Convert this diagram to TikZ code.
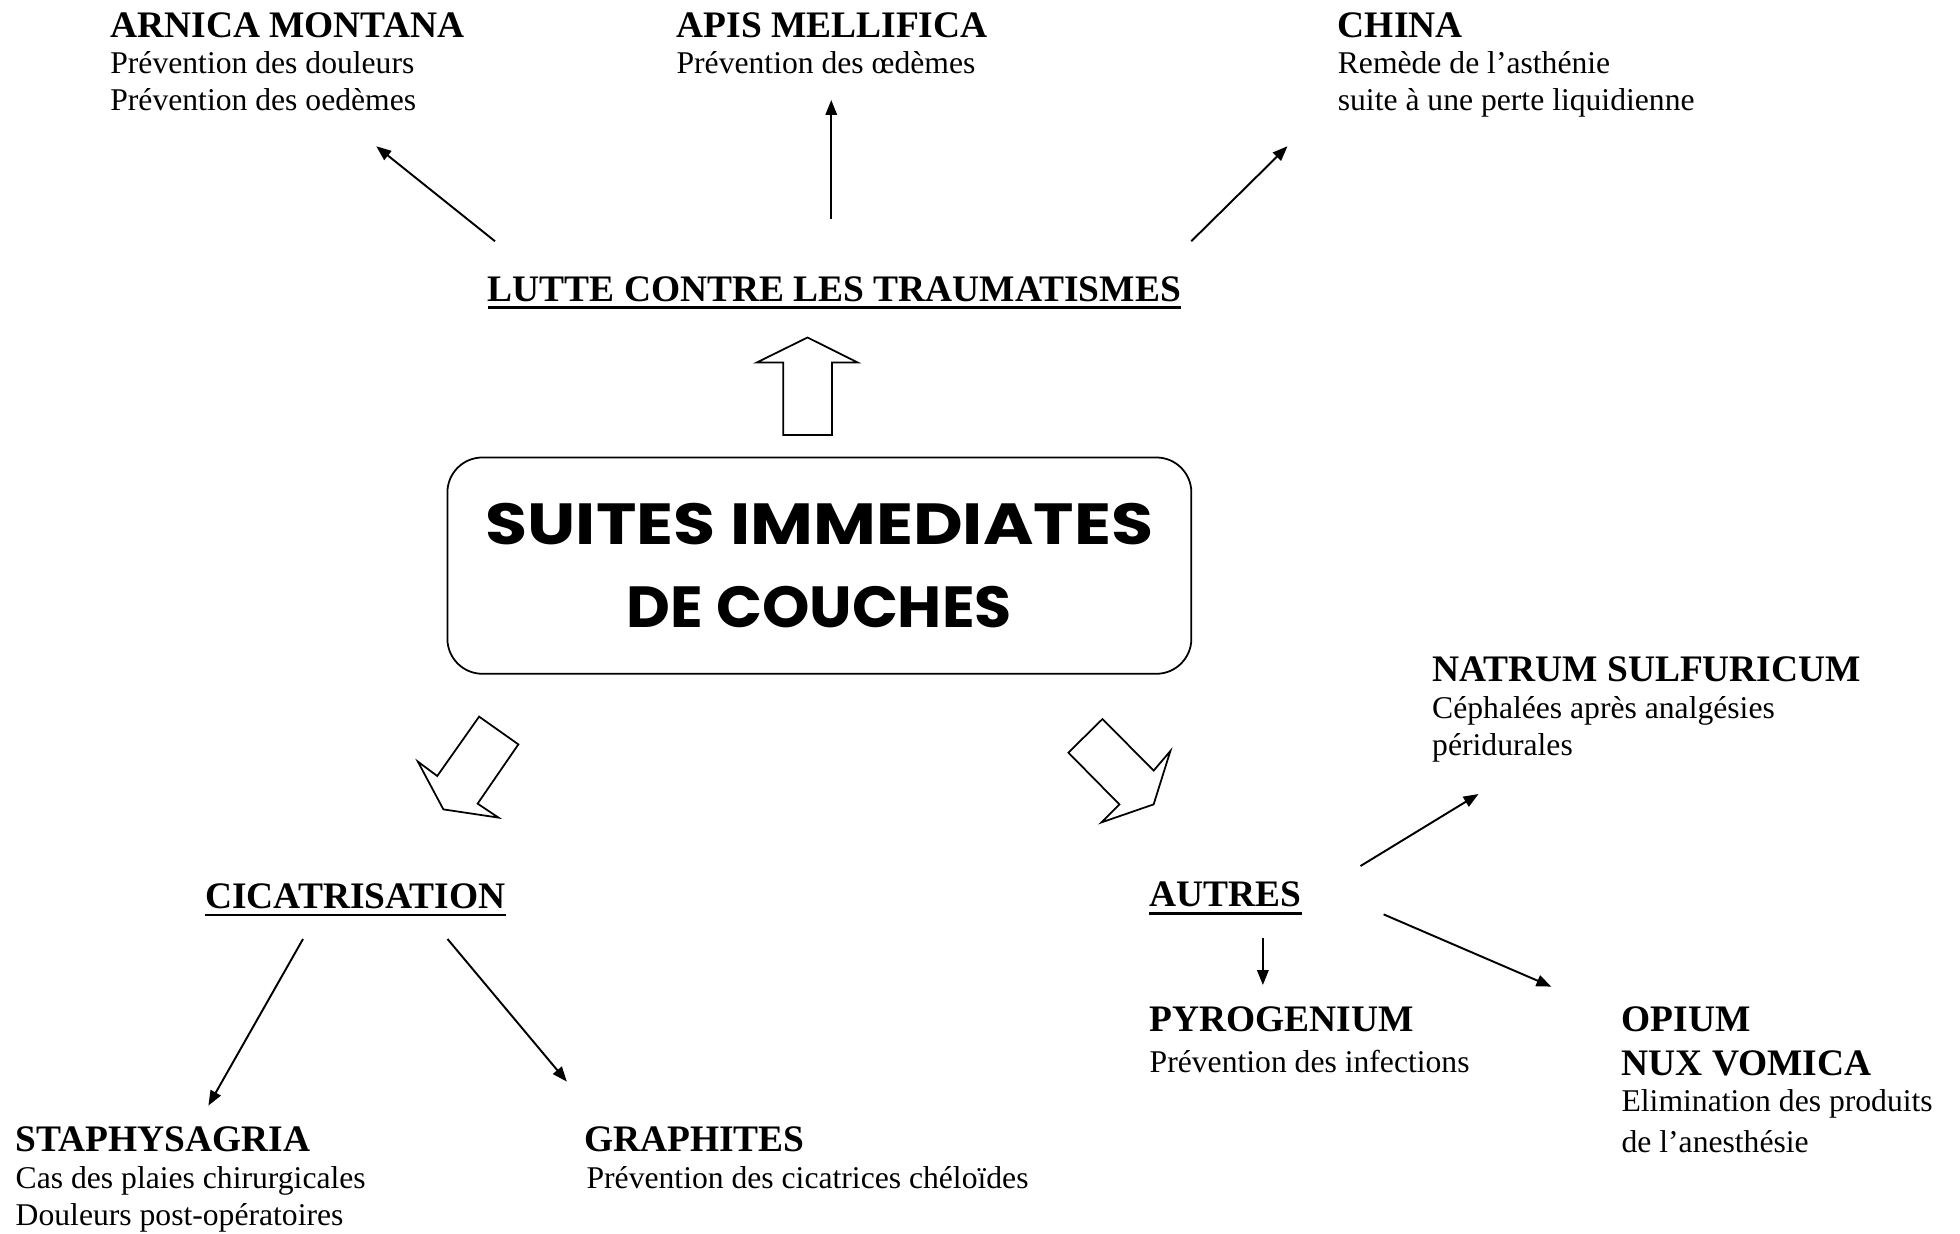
\documentclass[tikz,border=0pt]{standalone}
\usepackage{fontspec}
\setmainfont{Liberation Serif}
\newfontfamily\boxfont{Poppins}
\usetikzlibrary{arrows.meta,calc}
\begin{document}
\begin{tikzpicture}[x=0.025cm,y=-0.025cm,
  remtitle/.style={anchor=base west,inner sep=0pt,font=\fontsize{21.3}{24}\selectfont\bfseries},
  remdesc/.style={anchor=base west,inner sep=0pt,font=\fontsize{18}{21}\selectfont},
  thinarrow/.style={line width=1.1pt,-{Triangle[length=8.5pt,width=6.5pt]}},
  blockarrow/.style={line width=1pt,line join=miter,fill=white},
  uline/.style={line width=1.6pt},
  mainbox/.style={draw,line width=1pt,rounded corners=0.7cm,minimum width=14.875cm,minimum height=4.325cm,
    align=center,inner sep=0pt,font=\fontsize{33}{47.6}\selectfont\boxfont\bfseries}]
\useasboundingbox (0,0) rectangle (1568,987);

% top remedies
\node[remtitle] (arnica) at (88,30) {ARNICA MONTANA};
\node[remdesc] (arnicaA) at (88,59) {Prévention des douleurs};
\node[remdesc] (arnicaB) at (88,88) {Prévention des oedèmes};
\node[remtitle] (apis) at (541,30) {APIS MELLIFICA};
\node[remdesc] (apisA) at (541,59) {Prévention des œdèmes};
\node[remtitle] (china) at (1070,30) {CHINA};
\node[remdesc] (chinaA) at (1070,59) {Remède de l’asthénie};
\node[remdesc] (chinaB) at (1070,88) {suite à une perte liquidienne};

% category headings
\node[remtitle] (lutte) at (390,241) {LUTTE CONTRE LES TRAUMATISMES};
\draw[uline] ($(lutte.base west)+(0,5)$) -- ($(lutte.base east)+(0,5)$);
\node[remtitle] (cica) at (164,727) {CICATRISATION};
\draw[uline] ($(cica.base west)+(0,5)$) -- ($(cica.base east)+(0,5)$);
\node[remtitle] (autres) at (919.5,725.5) {AUTRES};
\draw[uline] ($(autres.base west)+(0,5)$) -- ($(autres.base east)+(0,5)$);

% central box
\node[mainbox] (main) at (655.5,452.5) {\scalebox{1.18}[1]{SUITES IMMEDIATES}\\\scalebox{1.04}[1]{DE COUCHES}};

% right-hand remedies
\node[remtitle] (natrum) at (1145.5,545) {NATRUM SULFURICUM};
\node[remdesc] (natrumA) at (1145.5,575) {Céphalées après analgésies};
\node[remdesc] (natrumB) at (1145.5,604) {péridurales};
\node[remtitle] (pyro) at (919.5,825) {PYROGENIUM};
\node[remdesc] (pyroA) at (919.5,858) {Prévention des infections};
\node[remtitle] (opium) at (1297,825) {OPIUM};
\node[remtitle] (nux) at (1297,860) {NUX VOMICA};
\node[remdesc] (nuxA) at (1297,889) {Elimination des produits};
\node[remdesc] (nuxB) at (1297,922) {de l’anesthésie};

% bottom-left remedies
\node[remtitle] (staph) at (12.3,921) {STAPHYSAGRIA};
\node[remdesc] (staphA) at (12.3,951) {Cas des plaies chirurgicales};
\node[remdesc] (staphB) at (12.3,980) {Douleurs post-opératoires};
\node[remtitle] (graph) at (467,921) {GRAPHITES};
\node[remdesc] (graphA) at (469,951) {Prévention des cicatrices chéloïdes};

% block arrows
\draw[blockarrow] (646,270) -- (686.2,290) -- (665.5,290) -- (665.5,348) -- (626.5,348) -- (626.5,290) -- (605.4,290) -- cycle;
\draw[blockarrow] (383.3,573.3) -- (414.7,595.5) -- (382.1,642.9) -- (398.8,654.1) -- (354.7,647.5) -- (334.3,609.3) -- (349.8,620.8) -- cycle;
\draw[blockarrow] (882,575.2) -- (922.9,616.5) -- (936.3,600.8) -- (922.9,643.5) -- (881.2,657.9) -- (895.5,643.5) -- (854.7,602.1) -- cycle;

% thin arrow end points
\coordinate (lutteA) at (396,193);
\coordinate (arnicaT) at (301,117);
\coordinate (lutteB) at (665,175);
\coordinate (apisT) at (665,80);
\coordinate (lutteC) at (953,193);
\coordinate (chinaT) at (1030,117);
\coordinate (autresA) at (1088.4,692.8);
\coordinate (natrumT) at (1182.8,635.2);
\coordinate (autresB) at (1010.3,750.7);
\coordinate (pyroT) at (1010.3,788);
\coordinate (autresC) at (1106.9,731.5);
\coordinate (opiumT) at (1241.1,789.3);
\coordinate (cicaA) at (242.4,751.2);
\coordinate (staphT) at (166.7,884.5);
\coordinate (cicaB) at (358,751.2);
\coordinate (graphT) at (453.5,865.3);

\draw[thinarrow] (lutteA) -- (arnicaT);
\draw[thinarrow] (lutteB) -- (apisT);
\draw[thinarrow] (lutteC) -- (chinaT);
\draw[thinarrow] (autresA) -- (natrumT);
\draw[thinarrow] (autresB) -- (pyroT);
\draw[thinarrow] (autresC) -- (opiumT);
\draw[thinarrow] (cicaA) -- (staphT);
\draw[thinarrow] (cicaB) -- (graphT);
\end{tikzpicture}
\end{document}
